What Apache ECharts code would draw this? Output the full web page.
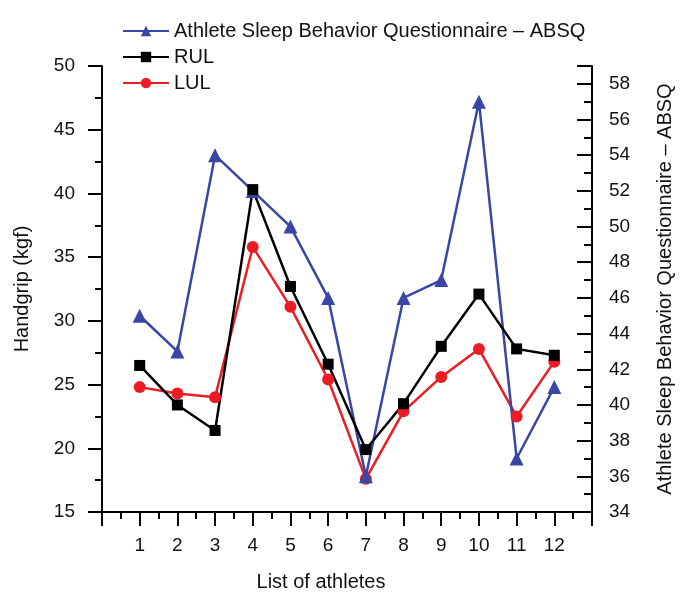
<!DOCTYPE html>
<html>
<head>
<meta charset="utf-8">
<script src="https://cdn.jsdelivr.net/npm/echarts@6/dist/echarts.min.js"></script>
<style>html,body{margin:0;padding:0;background:#fff;}#c{width:683px;height:597px;}</style>
</head>
<body>
<div id="c"></div>
<script>
var athletes = [1, 2, 3, 4, 5, 6, 7, 8, 9, 10, 11, 12];
var absq = [45, 43, 54, 52, 50, 46, 36, 46, 47, 57, 37, 41];
var rul = [26.5, 23.4, 21.4, 40.3, 32.7, 26.6, 19.9, 23.5, 28.0, 32.1, 27.8, 27.3];
var lul = [24.8, 24.3, 24.0, 35.8, 31.1, 25.4, 17.6, 22.9, 25.6, 27.8, 22.5, 26.8];
var absqName = 'Athlete Sleep Behavior Questionnaire \u2013 ABSQ';

function pairs(vals) { return athletes.map(function (a, i) { return [a, vals[i]]; }); }

var FONT = 'Liberation Sans, Arial, sans-serif';
var TXT = '#111';
var chart = echarts.init(document.getElementById('c'));
chart.setOption({
  animation: false,
  backgroundColor: '#fff',
  textStyle: { fontFamily: FONT, color: TXT },
  grid: { left: 102, right: 80, top: 66, bottom: 78, containLabel: false },
  legend: {
    orient: 'vertical', left: 117, top: 16, itemWidth: 46, itemHeight: 13, itemGap: 6,
    textStyle: { fontFamily: FONT, fontSize: 20, color: TXT },
    data: [absqName, 'RUL', 'LUL']
  },
  xAxis: {
    type: 'value', min: 0, max: 13, interval: 1,
    name: 'List of athletes', nameLocation: 'middle', nameGap: 60,
    nameTextStyle: { fontFamily: FONT, fontSize: 20, color: TXT, padding: [0, 52, 0, 0] },
    axisLine: { lineStyle: { color: '#000', width: 2 } },
    axisTick: { inside: false, length: 14, lineStyle: { color: '#000', width: 2 } },
    minorTick: { show: true, splitNumber: 2, length: 7, lineStyle: { color: '#000', width: 2 } },
    splitLine: { show: false },
    axisLabel: { margin: 24, fontSize: 19, color: TXT, fontFamily: FONT,
      formatter: function (v) { return (v >= 1 && v <= 12) ? String(v) : ''; } }
  },
  yAxis: [{
    type: 'value', min: 15, max: 50, interval: 5, position: 'left',
    name: 'Handgrip (kgf)', nameLocation: 'middle', nameGap: 70, nameRotate: 90,
    nameTextStyle: { fontFamily: FONT, fontSize: 20, color: TXT },
    axisLine: { show: true, lineStyle: { color: '#000', width: 2 } },
    axisTick: { show: true, inside: false, length: 14, lineStyle: { color: '#000', width: 2 } },
    minorTick: { show: true, splitNumber: 2, length: 7, lineStyle: { color: '#000', width: 2 } },
    splitLine: { show: false },
    axisLabel: { margin: 27, fontSize: 19, color: TXT, fontFamily: FONT }
  }, {
    type: 'value', min: 34, max: 59, interval: 2, position: 'right',
    name: absqName, nameLocation: 'middle', nameGap: 63, nameRotate: 90,
    nameTextStyle: { fontFamily: FONT, fontSize: 20, color: TXT },
    axisLine: { show: true, lineStyle: { color: '#000', width: 2 } },
    axisTick: { show: true, inside: true, length: 15, lineStyle: { color: '#000', width: 2 } },
    minorTick: { show: true, splitNumber: 2, length: 8, lineStyle: { color: '#000', width: 2 } },
    splitLine: { show: false },
    axisLabel: { margin: 17, fontSize: 19, color: TXT, fontFamily: FONT,
      formatter: function (v) { return v <= 58 ? String(v) : ''; } }
  }],
  series: [{
    name: 'LUL', type: 'line', yAxisIndex: 0, data: pairs(lul),
    symbol: 'circle', symbolSize: 12,
    lineStyle: { color: '#ec1c24', width: 2.5 }, itemStyle: { color: '#ec1c24' }
  }, {
    name: absqName, type: 'line', yAxisIndex: 1, data: pairs(absq),
    symbol: 'triangle', symbolSize: 14,
    lineStyle: { color: '#3a45a5', width: 2.5 }, itemStyle: { color: '#3a45a5' }
  }, {
    name: 'RUL', type: 'line', yAxisIndex: 0, data: pairs(rul),
    symbol: 'rect', symbolSize: 11,
    lineStyle: { color: '#000', width: 2.5 }, itemStyle: { color: '#000' }
  }]
});
</script>
</body>
</html>
